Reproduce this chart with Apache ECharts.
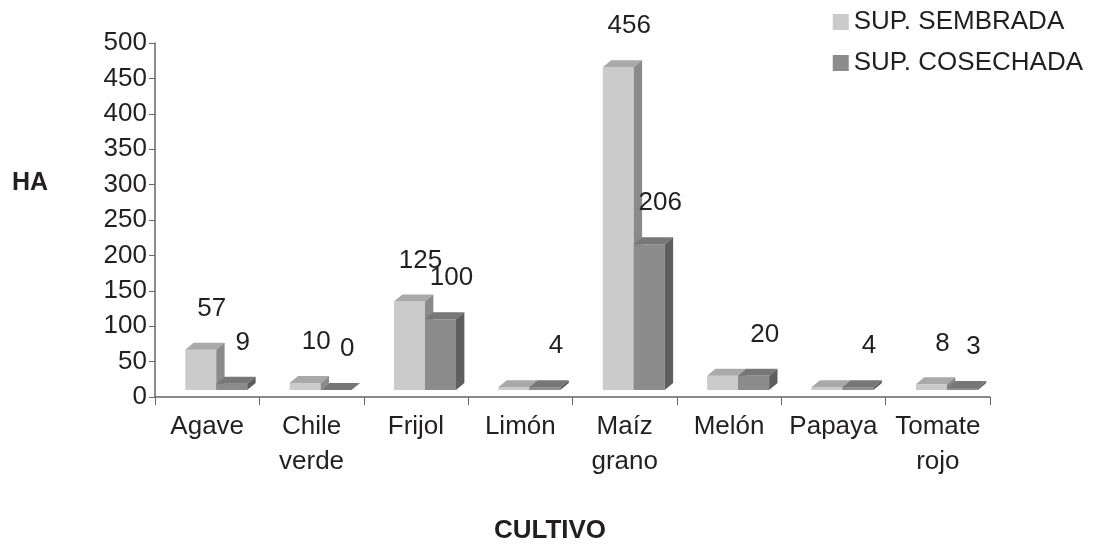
<!DOCTYPE html>
<html>
<head>
<meta charset="utf-8">
<script src="https://cdn.jsdelivr.net/npm/echarts@6/dist/echarts.min.js"></script>
<style>
html,body{margin:0;padding:0;background:#fff;}
#chart{width:1098px;height:546px;}
</style>
</head>
<body>
<div id="chart"></div>
<script>
const categories = ['Agave', 'Chile\nverde', 'Frijol', 'Limón', 'Maíz\ngrano', 'Melón', 'Papaya', 'Tomate\nrojo'];
const sembrada = [57, 10, 125, 4, 456, 20, 4, 8];
const cosechada = [9, 0, 100, 4, 206, 20, 4, 3];
const sembradaLabelShown = [true, true, true, false, true, false, false, true];
const cosechadaLabelShown = [true, true, true, true, true, true, true, true];
const yTicks = {min: 0, max: 500, interval: 50};
const seriesNames = ['SUP. SEMBRADA', 'SUP. COSECHADA'];
const yTitle = 'HA';
const xTitle = 'CULTIVO';

const FONT = '"Liberation Sans", Arial, sans-serif';
const TXT = '#231f20';
const FS = 26;

const palettes = [
  {front: '#cbcbcb', top: '#a9a9a9', side: '#8a8a8a'},
  {front: '#8c8c8c', top: '#777777', side: '#5e5e5e'}
];

function makeRender(si, labelsShown) {
  const pal = palettes[si];
  return function (params, api) {
    const idx = api.value(0), v = api.value(1);
    const base = api.coord([idx, 0]);
    const top = api.coord([idx, v]);
    const bw = api.size([1, 0])[0];
    const w = bw * 0.297;
    const dx = bw * 0.08;
    const dy = 7;
    const floor = 7;
    const left = base[0] - bw * 0.21 + si * w;
    const yb = base[1] - floor;
    const yt = top[1] - floor;
    const children = [
      {type: 'rect', shape: {x: left, y: yt, width: w, height: yb - yt}, style: {fill: pal.front}},
      {type: 'polygon', shape: {points: [[left, yt], [left + dx, yt - dy], [left + w + dx, yt - dy], [left + w, yt]]}, style: {fill: pal.top}},
      {type: 'polygon', shape: {points: [[left + w, yt], [left + w + dx, yt - dy], [left + w + dx, yb - dy], [left + w, yb]]}, style: {fill: pal.side}}
    ];
    if (labelsShown[params.dataIndex]) {
      children.push({
        type: 'text',
        style: {
          x: left + w / 2 + 11, y: yt - dy - 34,
          text: String(v), fill: TXT, font: FS + 'px ' + FONT,
          align: 'center', verticalAlign: 'middle'
        }
      });
    }
    return {type: 'group', children: children};
  };
}

const chart = echarts.init(document.getElementById('chart'), null, {renderer: 'canvas'});
chart.setOption({
  backgroundColor: '#ffffff',
  animation: false,
  textStyle: {fontFamily: FONT, color: TXT},
  grid: {left: 155, right: 108, top: 43, bottom: 149, containLabel: false},
  legend: {
    orient: 'vertical', right: 10, top: 4,
    icon: 'rect', itemWidth: 16, itemHeight: 16, itemGap: 15,
    textStyle: {fontSize: FS, color: TXT, fontFamily: FONT},
    data: seriesNames
  },
  graphic: [
    {type: 'text', left: 12, top: 171, style: {text: yTitle, font: 'bold 25px ' + FONT, fill: TXT}},
    {type: 'text', x: 550, y: 531, style: {text: xTitle, font: 'bold 26px ' + FONT, fill: TXT, align: 'center', verticalAlign: 'middle'}}
  ],
  xAxis: {
    type: 'category', data: categories,
    axisLine: {lineStyle: {color: '#666', width: 1.5}},
    axisTick: {show: true, length: 8, lineStyle: {color: '#666'}},
    axisLabel: {interval: 0, fontSize: FS, color: TXT, lineHeight: 35, margin: 12, fontFamily: FONT},
    splitLine: {show: false}
  },
  yAxis: {
    type: 'value', min: yTicks.min, max: yTicks.max, interval: yTicks.interval,
    axisLine: {show: true, lineStyle: {color: '#666', width: 1.5}},
    axisTick: {show: true, length: 6, lineStyle: {color: '#666'}},
    axisLabel: {fontSize: FS, color: TXT, margin: 8, fontFamily: FONT},
    splitLine: {show: false}
  },
  series: [
    {
      name: seriesNames[0], type: 'custom',
      itemStyle: {color: palettes[0].front},
      renderItem: makeRender(0, sembradaLabelShown),
      encode: {x: 0, y: 1},
      data: sembrada.map((v, i) => [i, v])
    },
    {
      name: seriesNames[1], type: 'custom',
      itemStyle: {color: palettes[1].front},
      renderItem: makeRender(1, cosechadaLabelShown),
      encode: {x: 0, y: 1},
      data: cosechada.map((v, i) => [i, v])
    }
  ]
});
</script>
</body>
</html>
